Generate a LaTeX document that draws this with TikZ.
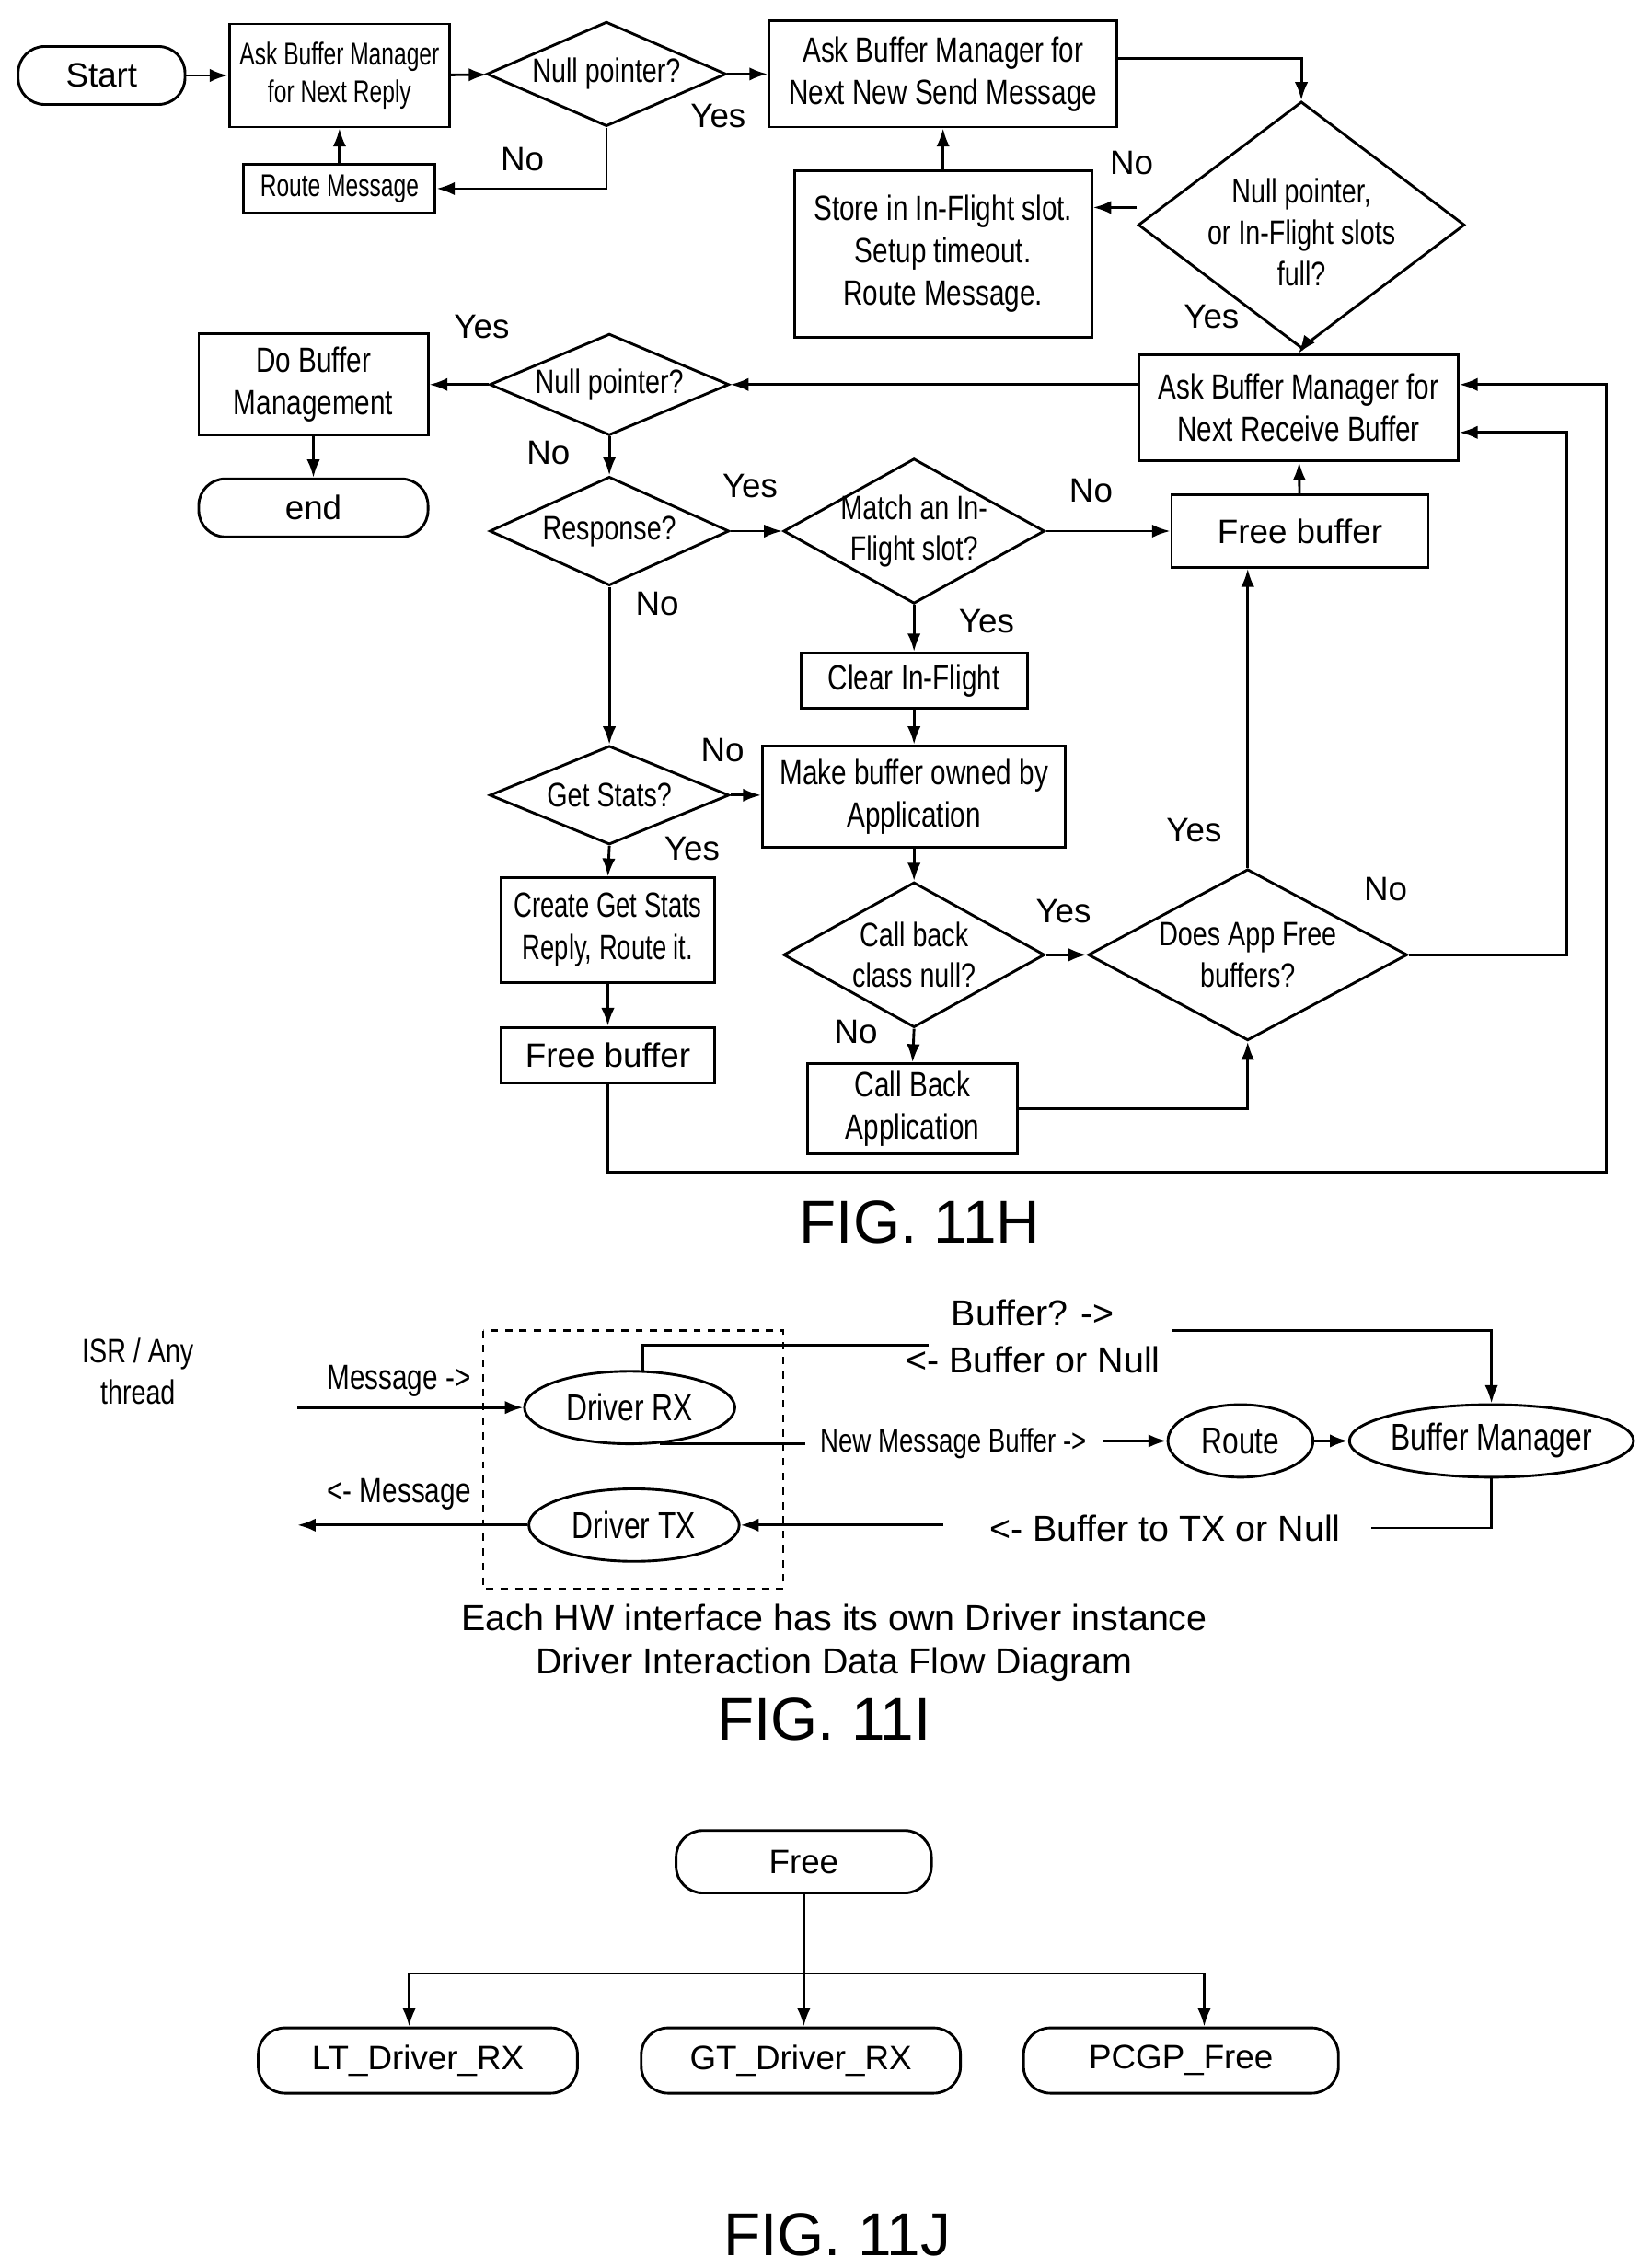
\documentclass[tikz,border=0pt]{standalone}
\usepackage{fontspec}
\setmainfont{Liberation Sans}
\newfontfamily\narrow[FakeStretch=0.78]{Liberation Sans}
\newfontfamily\narrowB[FakeStretch=0.72]{Liberation Sans}
\usetikzlibrary{shapes.geometric,arrows.meta,calc}
\newcommand\p[1]{#1*0.6pt}
\begin{document}
\begin{tikzpicture}[x=0.6pt,y=-0.6pt,line width=1.1pt,
  arr/.style={-{Latex[length=7.5pt,width=5.5pt]}},
  box/.style={draw,rectangle,inner sep=0pt,align=center,font=\narrow\fontsize{14.5}{17.5}\selectfont},
  sbox/.style={box,font=\narrowB\fontsize{13}{15.5}\selectfont},
  rbox/.style={draw,rectangle,rounded corners=11pt,inner sep=0pt,font=\fontsize{14}{17}\selectfont},
  dia/.style={draw,diamond,inner sep=0pt},
  dtxt/.style={align=center,font=\narrow\fontsize{14}{17}\selectfont},
  ell/.style={draw,ellipse,inner sep=0pt,font=\narrow\fontsize{15.5}{18}\selectfont},
  yn/.style={font=\fontsize{14}{17}\selectfont},
  fig/.style={font=\fontsize{25}{29}\selectfont},
  txt/.style={align=center,font=\fontsize{14}{17}\selectfont}]
\useasboundingbox (0,0) rectangle (1130,1563);
% ---------- FIG 11H ----------
\node[rbox,minimum width=\p{115},minimum height=\p{40}] (start) at (70,52) {Start};
\node[sbox,minimum width=\p{152},minimum height=\p{71}] (ask1) at (234,52) {Ask Buffer Manager\\for Next Reply};
\node[dia,minimum width=\p{165},minimum height=\p{72}] (d1) at (418,51) {};
\node[dtxt] at (d1) {Null pointer?};
\node[box,minimum width=\p{240},minimum height=\p{73}] (send) at (650,51) {Ask Buffer Manager for\\Next New Send Message};
\node[sbox,minimum width=\p{132},minimum height=\p{34}] (rm) at (234,130) {Route Message};
\node[dia,minimum width=\p{225},minimum height=\p{170}] (d2) at (897,155) {};
\node[dtxt] at ($(d2)+(0,5)$) {Null pointer,\\or In-Flight slots\\full?};
\node[box,minimum width=\p{205},minimum height=\p{115}] (store) at (650,175) {Store in In-Flight slot.\\Setup timeout.\\Route Message.};
\node[box,minimum width=\p{220},minimum height=\p{73}] (recv) at (895,281) {Ask Buffer Manager for\\Next Receive Buffer};
\node[dia,minimum width=\p{165},minimum height=\p{70}] (d3) at (420,265) {};
\node[dtxt] at (d3) {Null pointer?};
\node[box,minimum width=\p{158},minimum height=\p{70}] (dbm) at (216,265) {Do Buffer\\Management};
\node[rbox,minimum width=\p{158},minimum height=\p{40}] (endn) at (216,350) {end};
\node[dia,minimum width=\p{165},minimum height=\p{75}] (resp) at (420,366) {};
\node[dtxt] at (resp) {Response?};
\node[dia,minimum width=\p{180},minimum height=\p{100}] (match) at (630,366) {};
\node[dtxt] at (match) {Match an In-\\Flight slot?};
\node[box,minimum width=\p{177},minimum height=\p{50},font=\fontsize{14}{17}\selectfont] (fb1) at (896,366) {Free buffer};
\node[dia,minimum width=\p{165},minimum height=\p{68}] (gs) at (420,548) {};
\node[dtxt] at (gs) {Get Stats?};
\node[box,minimum width=\p{156},minimum height=\p{38}] (clr) at (630,469) {Clear In-Flight};
\node[box,minimum width=\p{209},minimum height=\p{70}] (make) at (630,549) {Make buffer owned by\\Application};
\node[box,minimum width=\p{147},minimum height=\p{72},font=\narrowB\fontsize{14.5}{17.5}\selectfont] (create) at (419,641) {Create Get Stats\\Reply, Route it.};
\node[box,minimum width=\p{147},minimum height=\p{38},font=\fontsize{14}{17}\selectfont] (fb2) at (419,727) {Free buffer};
\node[dia,minimum width=\p{180},minimum height=\p{100}] (cb) at (630,658) {};
\node[dtxt] at (cb) {Call back\\class null?};
\node[dia,minimum width=\p{220},minimum height=\p{118}] (app) at (860,658) {};
\node[dtxt] at (app) {Does App Free\\buffers?};
\node[box,minimum width=\p{145},minimum height=\p{62}] (cbapp) at (629,764) {Call Back\\Application};
\draw[arr] (start) -- (ask1);
\draw[arr] (ask1) -- (d1);
\draw[arr] (d1.east) -- (send.west|-d1.east);
\draw[arr] (d1.south) |- (rm.east);
\draw[arr] (rm) -- (ask1);
\draw[arr] ($(send.east)+(0,-11)$) -| (d2.north);
\draw[arr] ($(d2.west)+(0,-12)$) -- ($(store.east|-d2.west)+(0,-12)$);
\draw[arr] (store) -- (send);
\draw[arr] (d2.south) -- (recv.north);
\draw[arr] (recv.west|-d3.east) -- (d3.east);
\draw[arr] (d3) -- (dbm);
\draw[arr] (dbm) -- (endn);
\draw[arr] (d3.south) -- (resp.north);
\draw[arr] (resp.east) -- (match.west);
\draw[arr] (match.east) -- (fb1.west);
\draw[arr] (fb1) -- (recv);
\draw[arr] (resp.south) -- (gs.north);
\draw[arr] (match.south) -- (clr.north);
\draw[arr] (clr) -- (make);
\draw[arr] (gs.east) -- (make.west|-gs.east);
\draw[arr] (gs.south) -- (create.north);
\draw[arr] (create) -- (fb2);
\draw[arr] (fb2.south) |- (1107,808) |- ($(recv.east)+(0,-16)$);
\draw[arr] (make.south) -- (cb.north);
\draw[arr] (cb.east) -- (app.west);
\draw[arr] (app.north) -- (app.north|-fb1.south);
\draw[arr] (app.east) -- (1080,658) |- ($(recv.east)+(0,17)$);
\draw[arr] (cb.south) -- (cbapp.north);
\draw[arr] (cbapp.east) -| (app.south);
\node[yn] at (360,110) {No};
\node[yn] at (495,80) {Yes};
\node[yn] at (780,112) {No};
\node[yn] at (835,218) {Yes};
\node[yn] at (332,225) {Yes};
\node[yn] at (378,312) {No};
\node[yn] at (517,335) {Yes};
\node[yn] at (752,338) {No};
\node[yn] at (453,416) {No};
\node[yn] at (680,428) {Yes};
\node[yn] at (498,517) {No};
\node[yn] at (477,585) {Yes};
\node[yn] at (733,628) {Yes};
\node[yn] at (823,572) {Yes};
\node[yn] at (955,613) {No};
\node[yn] at (590,711) {No};
\node[fig] at (634,842) {FIG. 11H};
% ---------- FIG 11I ----------
\node[txt,font=\narrow\fontsize{14}{17}\selectfont] at (95,945) {ISR / Any\\thread};
\draw[dashed,line width=0.9pt] (333,917) rectangle (540,1095);
\node[ell,minimum width=\p{145},minimum height=\p{50}] (rx) at (434,970) {Driver RX};
\node[ell,minimum width=\p{145},minimum height=\p{50}] (tx) at (437,1051) {Driver TX};
\node[ell,minimum width=\p{100},minimum height=\p{50}] (route) at (855,993) {Route};
\node[ell,minimum width=\p{185},minimum height=\p{50}] (bm) at (1028,993) {Buffer Manager};
\coordinate (m1) at (205,970);
\coordinate (m2) at (205,1051);
\coordinate (b1) at (640,927);
\coordinate (b2) at (808,917);
\coordinate (n1) at (555,990);
\coordinate (n2) at (760,993);
\coordinate (t1) at (945,1053);
\coordinate (t2) at (650,1051);
\draw[arr] (m1) -- (rx.west);
\draw[arr] (tx.west) -- (m2);
\draw (rx.70) |- (b1);
\draw[arr] (b2) -| (bm.north);
\draw (rx.-50) -- (rx.-50 -| n1);
\draw[arr] (n2) -- (route.west);
\draw[arr] (route) -- (bm);
\draw (bm.south) |- (t1);
\draw[arr] (t2) -- (tx.east);
\node[txt,font=\narrow\fontsize{14.5}{17}\selectfont] at (275,952) {Message ->};
\node[txt,font=\narrow\fontsize{14.5}{17}\selectfont] at (275,1030) {<- Message};
\node[txt,font=\fontsize{15}{18}\selectfont] at (712,905) {Buffer? ->};
\node[txt,font=\fontsize{15}{18}\selectfont] at (712,937) {<- Buffer or Null};
\node[txt,font=\narrow\fontsize{13.5}{16}\selectfont] at (657,995) {New Message Buffer ->};
\node[txt,font=\fontsize{15}{18}\selectfont] at (803,1053) {<- Buffer to TX or Null};
\node[txt,font=\fontsize{15}{18}\selectfont] at (575,1115) {Each HW interface has its own Driver instance};
\node[txt,font=\fontsize{15}{18}\selectfont] at (575,1147) {Driver Interaction Data Flow Diagram};
\node[fig] at (568,1185) {FIG. 11I};
% ---------- FIG 11J ----------
\node[rbox,minimum width=\p{176},minimum height=\p{43}] (free) at (554,1283) {Free};
\node[rbox,minimum width=\p{220},minimum height=\p{45}] (lt) at (288,1420) {LT\_Driver\_RX};
\node[rbox,minimum width=\p{220},minimum height=\p{45}] (gt) at (552,1420) {GT\_Driver\_RX};
\node[rbox,minimum width=\p{217},minimum height=\p{45}] (pc) at (814,1420) {PCGP\_Free};
\coordinate (j) at (554,1360);
\draw[arr] (free.south) -- (free.south|-gt.north);
\draw[arr] (j) -| ($(lt.north)+(-6,0)$);
\draw[arr] (j) -| ($(pc.north)+(16,0)$);
\node[fig] at (577,1540) {FIG. 11J};
\end{tikzpicture}
\end{document}
